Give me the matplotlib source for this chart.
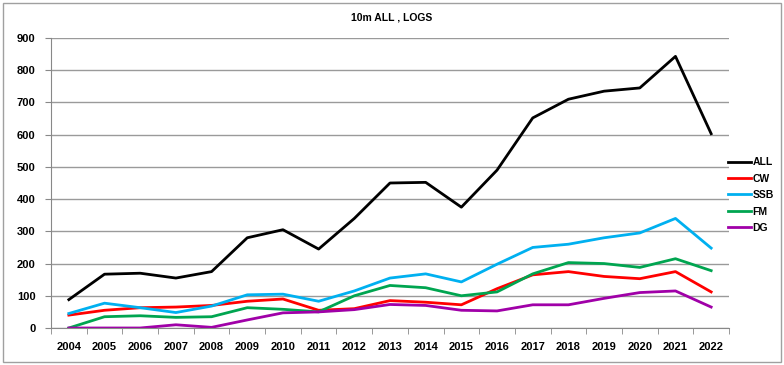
import numpy as np
import matplotlib.pyplot as plt
from matplotlib.patches import Rectangle

# Data
years = list(range(2004, 2023))
all_logs = [88, 167, 170, 155, 175, 280, 305, 245, 340, 450, 452, 375, 490, 652, 710, 735, 745, 843, 603]
cw = [40, 55, 63, 65, 70, 83, 90, 55, 60, 85, 80, 72, 122, 165, 175, 160, 153, 175, 112]
ssb = [45, 77, 63, 48, 68, 103, 105, 83, 115, 155, 168, 143, 198, 250, 260, 280, 295, 340, 248]
fm = [0, 35, 38, 33, 35, 63, 58, 50, 100, 132, 125, 100, 112, 168, 203, 200, 188, 215, 178]
dg = [0, 0, 0, 10, 2, 25, 47, 50, 57, 73, 70, 55, 53, 72, 72, 92, 110, 115, 65]

series = [('ALL', all_logs, '#000000'),
          ('CW', cw, '#ff0000'),
          ('SSB', ssb, '#00b0f0'),
          ('FM', fm, '#00a550'),
          ('DG', dg, '#a000a8')]

plt.rcParams['font.family'] = ['Liberation Sans', 'DejaVu Sans']

fig = plt.figure(figsize=(7.84, 3.65), dpi=100)
W, H = 784, 365
ax = fig.add_axes([51 / W, 1 - 328 / H, (729 - 51) / W, (328 - 38) / H])

x = np.arange(len(years))
for name, vals, col in series:
    ax.plot(x, vals, color=col, linewidth=2.0, label=name)

ax.set_xlim(-0.5, len(years) - 0.5)
ax.set_ylim(0, 900)
ax.set_yticks(range(0, 901, 100))
ax.set_xticks(x)
ax.set_xticklabels([str(y) for y in years], fontsize=8, fontweight='bold')
ax.set_xticks(np.arange(-0.5, len(years), 1), minor=True)
ax.tick_params(axis='x', which='major', length=0, pad=10)
ax.tick_params(axis='x', which='minor', length=4, color='#888888', direction='out')
ax.tick_params(axis='y', length=4, color='#888888', labelsize=8, pad=7)
for lab in ax.get_yticklabels():
    lab.set_fontweight('bold')

ax.grid(axis='y', color='#9a9a9a', linewidth=1.0)
ax.set_axisbelow(True)
for s in ['top', 'right']:
    ax.spines[s].set_visible(False)
for s in ['left', 'bottom']:
    ax.spines[s].set_color('#888888')

fig.text(392 / W, 1 - 18 / H, '10m ALL , LOGS', ha='center', va='center',
         fontsize=7.5, fontweight='bold')

leg = fig.legend(loc='upper left', bbox_to_anchor=(724 / W, 1 - 153 / H),
                 frameon=False, fontsize=7.5, handlelength=2.2, handletextpad=0.15,
                 labelspacing=0.62, borderaxespad=0)
for t in leg.get_texts():
    t.set_fontweight('bold')

# outer chart border
fig.patches.append(Rectangle((3 / W, 3 / H), 778 / W, 359 / H, transform=fig.transFigure,
                             fill=False, edgecolor='#a0a0a0', linewidth=1.0))

fig.savefig('out.png', dpi=100)
